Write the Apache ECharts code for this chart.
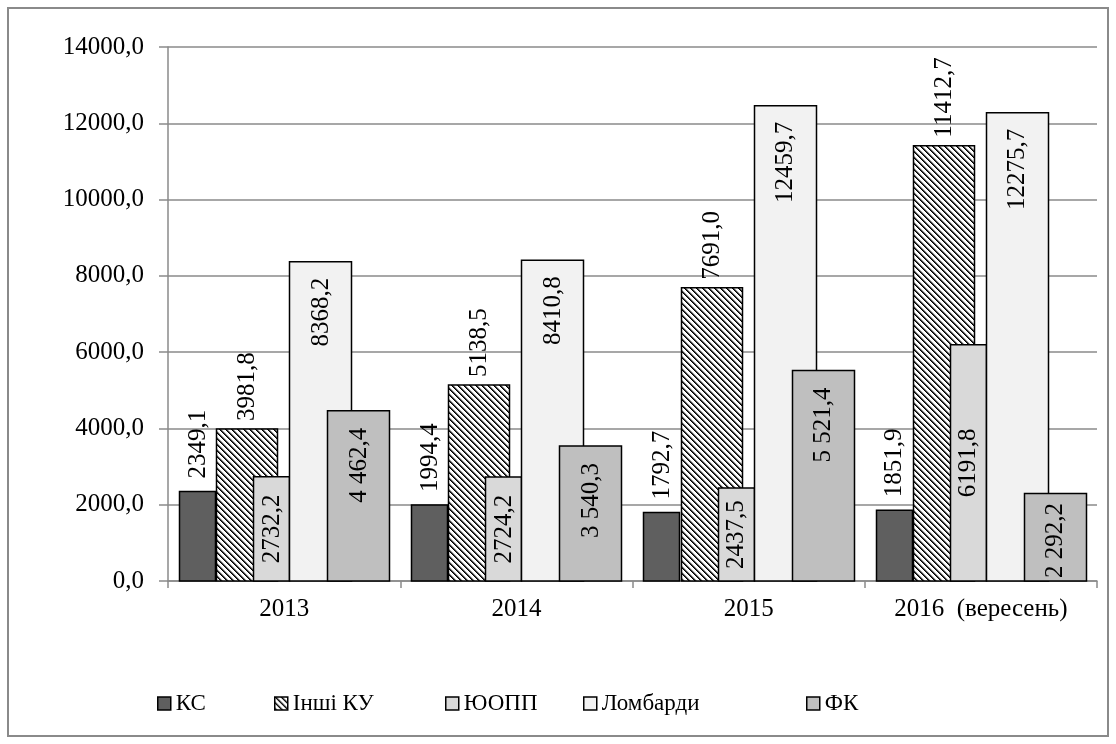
<!DOCTYPE html>
<html>
<head>
<meta charset="utf-8">
<script src="https://cdn.jsdelivr.net/npm/echarts@6/dist/echarts.min.js"></script>
<style>
  html, body { margin: 0; padding: 0; background: #fff; }
  #chart { width: 1116px; height: 744px; }
</style>
</head>
<body>
<div id="chart"></div>
<script>
// ---- Data ----
const categories = ['2013', '2014', '2015', '2016  (вересень)'];
const seriesNames = ['КС', 'Інші КУ', 'ЮОПП', 'Ломбарди', 'ФК'];
const ksValues = [2349.1, 1994.4, 1792.7, 1851.9];
const otherKuValues = [3981.8, 5138.5, 7691.0, 11412.7];
const yooppValues = [2732.2, 2724.2, 2437.5, 6191.8];
const lombardValues = [8368.2, 8410.8, 12459.7, 12275.7];
const fkValues = [4462.4, 3540.3, 5521.4, 2292.2];
const yTicks = { min: 0, max: 14000, interval: 2000 };

// ---- Styles ----
const FONT = 'Liberation Serif';
const FS = 25;
const GRIDC = '#8a8a8a';

function makeHatch() {
  const n = 6;
  const shades = ['#000', '#3a3a3a', '#b0b0b0', null, null, null];
  const c = document.createElement('canvas');
  c.width = n; c.height = n;
  const g = c.getContext('2d');
  g.fillStyle = '#fff'; g.fillRect(0, 0, n, n);
  for (let x = 0; x < n; x++) {
    for (let y = 0; y < n; y++) {
      const d = ((x - y) % n + n) % n;
      if (shades[d]) { g.fillStyle = shades[d]; g.fillRect(x, y, 1, 1); }
    }
  }
  return c;
}
const hatch = { image: makeHatch(), repeat: 'repeat' };

const measureCtx = document.createElement('canvas').getContext('2d');
measureCtx.font = FS + 'px "' + FONT + '"';
function textLen(t) { return measureCtx.measureText(t).width; }

const fmtPlain = v => v.toFixed(1).replace('.', ',');
const fmtSpaced = v => {
  const s = v.toFixed(1).split('.');
  return s[0].replace(/\B(?=(\d{3})+(?!\d))/g, ' ') + ',' + s[1];
};

// position fractions within a category band, label mode
const seriesCfg = [
  { name: seriesNames[0], values: ksValues, color: '#5f5f5f', f0: 0.047, f1: 0.203, mode: 'above', gap: 13, fmt: fmtPlain },
  { name: seriesNames[1], values: otherKuValues, color: hatch, f0: 0.207, f1: 0.469, mode: 'above', gap: 8, fmt: fmtPlain },
  { name: seriesNames[2], values: yooppValues, color: '#d9d9d9', f0: 0.366, f1: 0.521, mode: 'center', fmt: fmtPlain },
  { name: seriesNames[3], values: lombardValues, color: '#f2f2f2', f0: 0.521, f1: 0.788, mode: 'insideTop', gap: 16, fmt: fmtPlain },
  { name: seriesNames[4], values: fkValues, color: '#bfbfbf', f0: 0.685, f1: 0.952, mode: 'insideTop', gap: 17, fmt: fmtSpaced }
];

function makeSeries(cfg) {
  return {
    type: 'custom',
    name: cfg.name,
    itemStyle: { color: cfg.color, borderColor: '#000', borderWidth: 1.5 },
    encode: { x: 0, y: 1 },
    data: cfg.values.map((v, i) => [i, v]),
    renderItem: function (params, api) {
      const ci = api.value(0), v = api.value(1);
      const top = api.coord([ci, v]);
      const base = api.coord([ci, 0]);
      const band = api.size([1, 0])[0];
      const start = top[0] - band / 2;
      const x0 = start + band * cfg.f0, x1 = start + band * cfg.f1;
      const cx = (x0 + x1) / 2;
      const txt = cfg.fmt(v);
      const L = textLen(txt);
      let ly, align;
      if (cfg.mode === 'above') {
        ly = top[1] - cfg.gap; align = 'left';
      } else if (cfg.mode === 'center') {
        ly = (top[1] + base[1]) / 2; align = 'center';
        if (ly - L / 2 < top[1] + 5) ly = top[1] + 5 + L / 2;
      } else {
        ly = top[1] + cfg.gap; align = 'right';
        if (ly + L > base[1] - 3) ly = base[1] - 3 - L;
      }
      return {
        type: 'group',
        children: [
          {
            type: 'rect',
            shape: { x: Math.round(x0) + 0.5, y: top[1], width: Math.round(x1 - x0), height: base[1] - top[1] },
            style: { fill: cfg.color, stroke: '#000', lineWidth: 1.5 }
          },
          {
            type: 'text',
            x: cx + 1, y: ly,
            rotation: Math.PI / 2,
            z2: 10,
            style: {
              text: txt, fill: '#000', fontSize: FS, fontFamily: FONT,
              align: align, verticalAlign: 'middle'
            }
          }
        ]
      };
    }
  };
}

const legendLefts = [157, 274, 445, 583, 806];
const legends = seriesNames.map((n, i) => ({
  data: [n],
  left: legendLefts[i],
  top: 692,
  padding: 0,
  itemWidth: 13,
  itemHeight: 13,
  selectedMode: false,
  icon: 'rect',
  itemStyle: { borderColor: '#000', borderWidth: 1.5 },
  textStyle: { fontSize: 23, fontFamily: FONT, color: '#000' }
}));

const chart = echarts.init(document.getElementById('chart'), null, { renderer: 'canvas' });
chart.setOption({
  animation: false,
  backgroundColor: '#fff',
  textStyle: { fontFamily: FONT },
  grid: { left: 168, right: 19, top: 47, bottom: 163 },
  legend: legends,
  xAxis: {
    type: 'category',
    data: categories,
    boundaryGap: true,
    axisLine: { lineStyle: { color: GRIDC, width: 1.5 } },
    axisTick: { show: true, length: 7, lineStyle: { color: GRIDC, width: 1.5 } },
    axisLabel: { fontSize: FS, fontFamily: FONT, color: '#000', margin: 16 },
    splitLine: { show: false }
  },
  yAxis: {
    type: 'value',
    min: yTicks.min, max: yTicks.max, interval: yTicks.interval,
    axisLine: { show: true, lineStyle: { color: GRIDC, width: 1.5 } },
    axisTick: { show: true, length: 9, lineStyle: { color: GRIDC, width: 1.5 } },
    axisLabel: { fontSize: FS, fontFamily: FONT, color: '#000', margin: 24, formatter: fmtPlain },
    splitLine: { lineStyle: { color: GRIDC, width: 1.5 } }
  },
  graphic: [{
    type: 'rect',
    shape: { x: 8, y: 8, width: 1100, height: 728 },
    style: { fill: 'none', stroke: GRIDC, lineWidth: 2 },
    silent: true
  }],
  series: seriesCfg.map(makeSeries)
});
</script>
</body>
</html>
